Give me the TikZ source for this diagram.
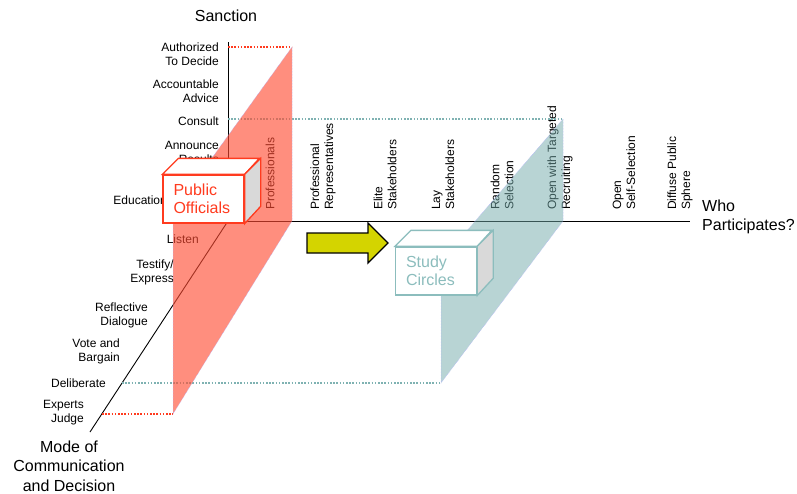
\documentclass[tikz,border=0pt]{standalone}
\usepackage{fontspec}
\setmainfont{Liberation Sans}
\usepackage{tikz}
\usetikzlibrary{positioning}
\definecolor{offred}{HTML}{FF3B1F}
\definecolor{sheetred}{HTML}{FF4C33}
\definecolor{sheetteal}{HTML}{71A9A9}
\definecolor{circteal}{HTML}{8CBDBD}
\definecolor{dotteal}{HTML}{7FB2B2}
\definecolor{arrowyel}{HTML}{D4D400}
\definecolor{sidegray}{HTML}{D9D9D9}
\tikzset{
  lvl/.style = {align=right, anchor=east, inner sep=0pt,
    font=\fontsize{12}{14}\selectfont},% niveaux des axes
  colm/.style = {align=left, rotate=90, anchor=west, inner sep=0pt,
    font=\fontsize{12}{14}\selectfont},% qui participe
  axtitle/.style = {align=center, inner sep=0pt,
    font=\fontsize{16}{19.5}\selectfont},% titres des axes
  axis/.style = {draw=black, line width=0.9pt},
  lvldots/.style = {line width=1.5pt, dash pattern=on 1.5pt off 1.7pt},
  sheet/.style = {draw=blue!30, densely dotted, line width=0.5pt},
  cubefront/.style = {rectangle, fill=white, line width=1.3pt,
    minimum width=81pt, minimum height=48pt, text width=60pt,
    inner xsep=10.5pt, align=left, font=\fontsize{16}{18.5}\selectfont},
  bigarrow/.style = {draw=black, fill=arrowyel, line width=1.3pt}
}

\begin{document}
\begin{tikzpicture}[x=1pt,y=-1pt]
\useasboundingbox (0,0) rectangle (797,493);

% axes
\coordinate (O) at (228,221);
\coordinate (sanc) at (228,42);
\coordinate (wp) at (690,221);
\coordinate (md) at (90,432);
\draw[axis] (sanc) -- (O) -- (wp);
\draw[axis] (O) -- (md);

\node[axtitle] (sanction) at (226,16) {Sanction};
\node[axtitle, align=left, anchor=west] (particip) at (702,217) {Who\\Participates?};
\node[axtitle] (mode) at (69,466) {Mode of\\Communication\\and Decision};

% sanction
\node[lvl] (auth) at (219,54) {Authorized\\To Decide};
\node[lvl] (acct) at (219,91) {Accountable\\Advice};
\node[lvl] (cons) at (219,121) {Consult};
\node[lvl] (annc) at (219,152) {Announce\\Results};
\node[lvl] (educ) at (167,200) {Education};

% communication and decision
\node[lvl] (listen) at (199,239) {Listen};
\node[lvl] (testify) at (174,272) {Testify/\\Express};
\node[lvl] (reflect) at (148,315) {Reflective\\Dialogue};
\node[lvl] (vote) at (120,351) {Vote and\\Bargain};
\node[lvl] (delib) at (106,383) {Deliberate};
\node[lvl] (expert) at (84,412.5) {Experts\\Judge};

% who participates
\node[colm] (prof) at (270,210) {Professionals};
\node[colm] (profrep) at (323,210) {Professional\\Representatives};
\node[colm] (elite) at (385,210) {Elite\\Stakeholders};
\node[colm] (lay) at (443,210) {Lay\\Stakeholders};
\node[colm] (random) at (502,210) {Random\\Selection};
\node[colm] (target) at (560,210) {Open with Targeted\\Recruiting};
\node[colm] (selfsel) at (624,210) {Open\\Self-Selection};
\node[colm] (diffuse) at (680,210) {Diffuse Public\\Sphere};

% professionals sheet
\coordinate (r1) at (292,47);
\coordinate (r2) at (292,221);
\coordinate (r3) at (173,414);
\coordinate (r4) at (173,212);
\coordinate (topA) at (228,47);
\coordinate (lowA) at (102,414);
\draw[lvldots, offred] (topA) -- (r1);
\draw[lvldots, offred] (lowA) -- (r3);

% study circles sheet
\coordinate (t1) at (563,119);
\coordinate (t2) at (563,221);
\coordinate (t3) at (441,383);
\coordinate (t4) at (441,261);
\coordinate (midA) at (228,119);
\coordinate (delA) at (122,383);
\draw[lvldots, dotteal] (midA) -- (t1);
\draw[lvldots, dotteal] (delA) -- (t3);

\filldraw[sheet, fill=sheetred, fill opacity=0.63] (r1) -- (r2) -- (r3) -- (r4) -- cycle;
\filldraw[sheet, fill=sheetteal, fill opacity=0.5] (t1) -- (t2) -- (t3) -- (t4) -- cycle;

% cubes
\node[cubefront, draw=offred, text=offred] (pub) at (203.5,199) {Public\\Officials};
\draw[offred, line width=1.3pt, fill=white] (pub.north west) -- ++(16,-16) -- ++(81,0) -- (pub.north east) -- cycle;
\draw[offred, line width=1.3pt, fill=sidegray] (pub.north east) -- ++(16,-16) -- ++(0,48) -- (pub.south east) -- cycle;

\node[cubefront, draw=circteal, text=circteal] (study) at (436,271) {Study\\Circles};
\draw[circteal, line width=1.3pt, fill=white] (study.north west) -- ++(16,-16) -- ++(81,0) -- (study.north east) -- cycle;
\draw[circteal, line width=1.3pt, fill=sidegray] (study.north east) -- ++(16,-16) -- ++(0,48) -- (study.south east) -- cycle;

% arrow
\coordinate (arr) at (307,233);
\draw[bigarrow] (arr) -- ++(61,0) -- ++(0,-10) -- ++(20,20) -- ++(-20,20) -- ++(0,-10) -- ++(-61,0) -- cycle;
\end{tikzpicture}
\end{document}
